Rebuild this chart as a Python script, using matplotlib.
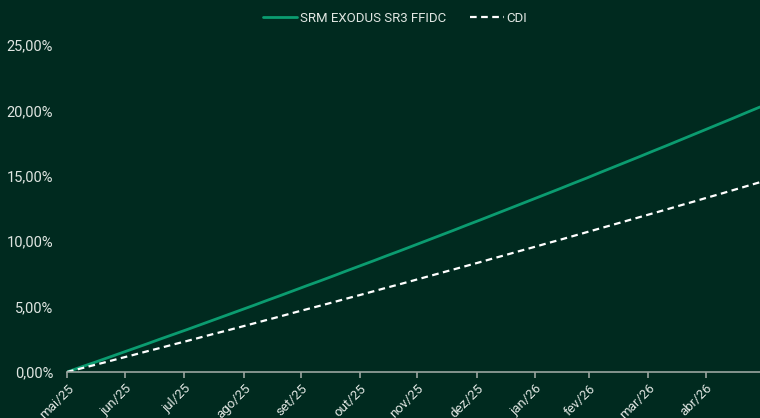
import matplotlib
matplotlib.use("Agg")
import matplotlib.pyplot as plt
from matplotlib.ticker import FuncFormatter

# weekly accumulated returns (%)
srm = [0.00, 0.36, 0.71, 1.07, 1.43, 1.79, 2.15, 2.52, 2.88, 3.24, 3.61, 3.98, 4.35,
       4.72, 5.09, 5.47, 5.84, 6.22, 6.60, 6.97, 7.35, 7.74, 8.12, 8.50, 8.89, 9.27,
       9.66, 10.05, 10.44, 10.83, 11.23, 11.62, 12.02, 12.42, 12.82, 13.22, 13.62,
       14.02, 14.43, 14.83, 15.25, 15.66, 16.07, 16.48, 16.90, 17.31, 17.73, 18.15,
       18.57, 18.99, 19.41, 19.84, 20.26]
cdi = [0.00, 0.26, 0.52, 0.78, 1.05, 1.31, 1.58, 1.84, 2.11, 2.37, 2.64, 2.91, 3.17,
       3.44, 3.71, 3.98, 4.25, 4.53, 4.80, 5.07, 5.34, 5.62, 5.89, 6.17, 6.45, 6.72,
       7.00, 7.28, 7.56, 7.84, 8.12, 8.40, 8.69, 8.97, 9.26, 9.54, 9.83, 10.11, 10.40,
       10.69, 10.98, 11.27, 11.56, 11.85, 12.14, 12.43, 12.73, 13.02, 13.32, 13.61,
       13.91, 14.21, 14.51]
tick_labels = ["mai/25", "jun/25", "jul/25", "ago/25", "set/25", "out/25", "nov/25",
               "dez/25", "jan/26", "fev/26", "mar/26", "abr/26"]
tick_pos = [0, 4.35, 8.78, 13.28, 17.55, 21.98, 26.26, 30.76, 35.10, 39.16, 43.58, 47.93]
y_ticks = [0, 5, 10, 15, 20, 25]

BG = "#002A1F"
GREEN = "#0B9C70"
TXT = "#E0E6E2"

plt.rcParams['font.family'] = ['Roboto', 'DejaVu Sans']

fig = plt.figure(figsize=(7.6, 4.18), dpi=100, facecolor=BG)
ax = fig.add_axes([67/760, 1-372/418, 1-67/760, (372-45)/418], facecolor=BG)

x = list(range(len(srm)))
ax.plot(x, srm, color=GREEN, lw=2.0, label="SRM EXODUS SR3 FFIDC", solid_capstyle='round')
ax.plot(x, cdi, color="white", lw=1.6, ls=(0, (3, 2)), label="CDI")

ax.set_xlim(0, len(srm)-1)
ax.set_ylim(0, 25)
ax.set_yticks(y_ticks)

def fmt(v, p):
    return f"{v:.2f}".replace(".", ",") + "%"
ax.yaxis.set_major_formatter(FuncFormatter(fmt))
ax.set_xticks(tick_pos)
ax.set_xticklabels(tick_labels, rotation=45, ha='right', rotation_mode='anchor')

for s in ['top', 'right', 'left']:
    ax.spines[s].set_visible(False)
ax.spines['bottom'].set_color("#9AA5A0")
ax.spines['bottom'].set_linewidth(1.2)
ax.tick_params(axis='x', colors="#9AA5A0", length=4, width=1.2, labelcolor=TXT, labelsize=9.5, pad=3)
ax.tick_params(axis='y', length=0, labelcolor=TXT, labelsize=10.5, pad=10)

leg = fig.legend(loc='upper center', bbox_to_anchor=(0.52, 1.0), ncol=2, frameon=False,
                 fontsize=9.5, labelcolor=TXT, handlelength=2.6, handletextpad=0.2,
                 columnspacing=1.8)

fig.savefig("out.png", dpi=100, facecolor=BG)
